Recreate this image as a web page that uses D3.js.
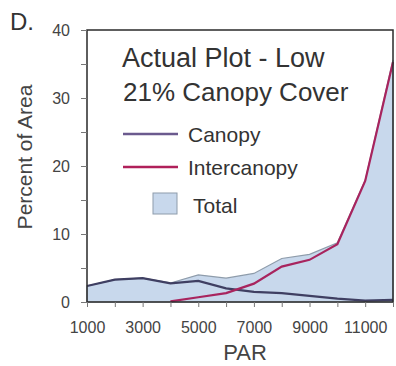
<!DOCTYPE html>
<html>
<head>
<meta charset="utf-8">
<script src="https://cdn.jsdelivr.net/npm/d3@7"></script>
<style>
  body { margin: 0; background: #fff; }
  text { font-family: "Liberation Sans", Arial, sans-serif; }
</style>
</head>
<body>
<div id="chart"></div>
<script>
// PAR bins and percent of area
var par = [1000, 2000, 3000, 4000, 5000, 6000, 7000, 8000, 9000, 10000, 11000, 12000];
var canopy = [2.35, 3.3, 3.5, 2.75, 3.1, 2.0, 1.5, 1.3, 0.9, 0.5, 0.2, 0.3];
var intercanopy = [0, 0, 0, 0.1, 0.7, 1.3, 2.7, 5.2, 6.2, 8.5, 17.8, 35.3];
var total = [2.35, 3.3, 3.5, 2.8, 4.0, 3.5, 4.2, 6.4, 7.0, 8.7, 17.9, 35.6];
var xTickLabels = [1000, 3000, 5000, 7000, 9000, 11000];
var yTickLabels = [0, 10, 20, 30, 40];

var width = 396, height = 366;
var margin = {top: 30, right: 3, bottom: 64, left: 87};

var svg = d3.select("#chart").append("svg")
    .attr("width", width)
    .attr("height", height);

var x = d3.scaleLinear().domain([1000, 12000]).range([margin.left, width - margin.right]);
var y = d3.scaleLinear().domain([0, 40]).range([height - margin.bottom, margin.top]);

var rows = par.map(function(p, i) {
  return {par: p, canopy: canopy[i], inter: intercanopy[i], total: total[i]};
});

// total area
var area = d3.area()
    .x(function(d) { return x(d.par); })
    .y0(y(0))
    .y1(function(d) { return y(d.total); });

svg.append("path")
    .datum(rows)
    .attr("d", area)
    .style("fill", "#c8d8ec")
    .style("stroke", "#8e9cab")
    .style("stroke-width", 1.2);

var line = function(key) {
  return d3.line()
    .x(function(d) { return x(d.par); })
    .y(function(d) { return y(d[key]); });
};

svg.append("path")
    .datum(rows)
    .attr("d", line("canopy"))
    .style("fill", "none")
    .style("stroke", "#3f3f62")
    .style("stroke-width", 2.2);

svg.append("path")
    .datum(rows.filter(function(d) { return d.par >= 4000; }))
    .attr("d", line("inter"))
    .style("fill", "none")
    .style("stroke", "#a8245e")
    .style("stroke-width", 2.2);

// frame
svg.append("rect")
    .attr("x", margin.left)
    .attr("y", margin.top)
    .attr("width", width - margin.right - margin.left)
    .attr("height", height - margin.bottom - margin.top)
    .style("fill", "none")
    .style("stroke", "#2a2a2a")
    .style("stroke-width", 1.5);

// axes
var yAxis = d3.axisLeft(y)
    .tickValues(d3.range(0, 41, 5))
    .tickSize(6)
    .tickFormat(function(d) { return yTickLabels.indexOf(d) >= 0 ? d : ""; });

var gy = svg.append("g")
    .attr("transform", "translate(" + margin.left + ",0)")
    .call(yAxis);
gy.select(".domain").remove();
gy.selectAll("line").style("stroke", "#777");
gy.selectAll("text")
    .attr("x", -17)
    .style("font-size", "16px")
    .style("fill", "#444");

var xAxis = d3.axisBottom(x)
    .tickValues(par)
    .tickSize(5)
    .tickFormat(function(d) { return xTickLabels.indexOf(d) >= 0 ? d : ""; });

var gx = svg.append("g")
    .attr("transform", "translate(0," + (height - margin.bottom) + ")")
    .call(xAxis);
gx.select(".domain").remove();
gx.selectAll("line").style("stroke", "#777");
gx.selectAll("text")
    .attr("y", 20)
    .style("font-size", "16px")
    .style("fill", "#444");

// axis titles
svg.append("text")
    .attr("x", 245)
    .attr("y", 360)
    .attr("text-anchor", "middle")
    .style("font-size", "22px")
    .style("fill", "#444")
    .text("PAR");

svg.append("text")
    .attr("transform", "translate(32,157) rotate(-90)")
    .attr("text-anchor", "middle")
    .style("font-size", "21px")
    .style("fill", "#444")
    .text("Percent of Area");

svg.append("text")
    .attr("x", 10)
    .attr("y", 30)
    .style("font-size", "24px")
    .style("fill", "#333")
    .text("D.");

// titles inside plot
svg.append("text")
    .attr("x", 122)
    .attr("y", 67)
    .style("font-size", "27px")
    .style("fill", "#333")
    .text("Actual Plot - Low");

svg.append("text")
    .attr("x", 123)
    .attr("y", 101)
    .style("font-size", "26px")
    .style("fill", "#333")
    .text("21% Canopy Cover");

// legend
var legend = [
  {label: "Canopy", color: "#6b5a8e", y: 134},
  {label: "Intercanopy", color: "#b0205a", y: 167}
];

legend.forEach(function(l) {
  svg.append("line")
    .attr("x1", 123).attr("x2", 178)
    .attr("y1", l.y).attr("y2", l.y)
    .style("stroke", l.color)
    .style("stroke-width", 2.5);
  svg.append("text")
    .attr("x", 188)
    .attr("y", l.y + 8)
    .style("font-size", "21px")
    .style("fill", "#333")
    .text(l.label);
});

svg.append("rect")
    .attr("x", 153).attr("y", 193)
    .attr("width", 24).attr("height", 21)
    .style("fill", "#c8d8ec")
    .style("stroke", "#8e9cab");

svg.append("text")
    .attr("x", 193)
    .attr("y", 213)
    .style("font-size", "21px")
    .style("fill", "#333")
    .text("Total");
</script>
</body>
</html>
